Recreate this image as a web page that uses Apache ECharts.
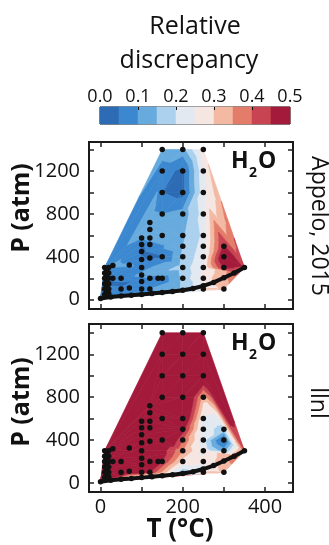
<!DOCTYPE html>
<html>
<head>
<meta charset="utf-8">
<script src="https://cdn.jsdelivr.net/npm/echarts@6/dist/echarts.min.js"></script>
<style>
  html, body { margin: 0; padding: 0; background: #fff; }
  #chart { width: 329px; height: 545px; }
</style>
</head>
<body>
<div id="chart"></div>
<script>
// measured (T, P) points and the relative discrepancy read at each one
const ptT = [150, 150, 150, 150, 150, 150, 150,
  200, 200, 200, 200, 200, 200, 200, 200, 200,
  250, 250, 250, 250, 250, 250, 250, 250, 250, 250,
  300, 300, 300, 300,
  10, 10, 10, 10, 10, 10,
  15, 15, 15, 15, 15,
  20, 20, 20, 20, 20, 20,
  30, 30, 50, 50, 70, 70,
  100, 100, 100, 100, 100, 100, 100, 100,
  120, 120, 120, 120, 120, 120, 120, 140]
const ptP = [1400, 1200, 1000, 800, 600, 400, 200,
  1400, 1200, 1000, 800, 600, 500, 400, 300, 200,
  1400, 1200, 1000, 800, 600, 500, 400, 300, 200, 100,
  500, 400, 300, 100,
  300, 250, 200, 150, 100, 50,
  275, 225, 175, 125, 75,
  300, 250, 200, 150, 100, 60,
  320, 200, 200, 100, 325, 110,
  575, 515, 450, 375, 300, 230, 170, 100,
  720, 655, 575, 515, 390, 200, 100, 200]
const relAppelo = [0.12, 0.08, 0.05, 0.1, 0.13, 0.04, 0.07,
  0.13, 0.03, 0.03, 0.12, 0.14, 0.15, 0.16, 0.17, 0.16,
  0.28, 0.24, 0.23, 0.22, 0.21, 0.22, 0.23, 0.25, 0.27, 0.3,
  0.46, 0.52, 0.46, 0.32,
  0.07, 0.04, 0.03, 0.04, 0.03, 0.04,
  0.06, 0.04, 0.03, 0.04, 0.04,
  0.1, 0.05, 0.04, 0.03, 0.04, 0.05,
  0.12, 0.06, 0.08, 0.08, 0.11, 0.06,
  0.1, 0.05, 0.04, 0.06, 0.08, 0.11, 0.06, 0.08,
  0.13, 0.11, 0.13, 0.06, 0.04, 0.1, 0.1, 0.06]
const relLlnl = [0.6, 0.6, 0.6, 0.6, 0.6, 0.58, 0.45,
  0.6, 0.6, 0.6, 0.6, 0.55, 0.48, 0.4, 0.35, 0.28,
  0.6, 0.6, 0.55, 0.32, 0.24, 0.22, 0.22, 0.24, 0.26, 0.3,
  0.18, 0.02, 0.12, 0.32,
  0.6, 0.6, 0.6, 0.6, 0.6, 0.6,
  0.6, 0.6, 0.6, 0.6, 0.58,
  0.6, 0.6, 0.6, 0.6, 0.6, 0.55,
  0.6, 0.6, 0.6, 0.6, 0.6, 0.55,
  0.6, 0.6, 0.6, 0.6, 0.6, 0.6, 0.6, 0.5,
  0.6, 0.6, 0.6, 0.6, 0.6, 0.6, 0.45, 0.6]

// lower boundary (dense black curve)
const curveT = [0, 25, 50, 75, 100, 125, 150, 175, 200, 225, 250, 275, 300, 325, 350]
const curveP = [12, 25, 35, 42, 50, 58, 68, 77, 88, 105, 130, 162, 205, 250, 300]
const curveAppelo = [0.06, 0.04, 0.05, 0.06, 0.07, 0.08, 0.1, 0.12, 0.16, 0.2, 0.24, 0.3, 0.34, 0.38, 0.44]
const curveLlnl = [0.55, 0.45, 0.3, 0.2, 0.15, 0.12, 0.12, 0.12, 0.14, 0.18, 0.22, 0.28, 0.33, 0.37, 0.4]

// contour levels and colours
const levels = [0, 0.05, 0.1, 0.15, 0.2, 0.25, 0.3, 0.35, 0.4, 0.45, 0.5]
const bandColors = ['#2d6cb4', '#3c88d0', '#67aade', '#acd1ee', '#e3e9f1',
  '#f5e6e2', '#f3b9a3', '#e47c6a', '#c84452', '#a31a3b']

const xTicks = [0, 100, 200, 300, 400]
const xLabels = [0, 200, 400]
const yTicks = [0, 200, 400, 600, 800, 1000, 1200, 1400]
const yLabels = [0, 400, 800, 1200]
const cbTicks = [0.1, 0.2, 0.3, 0.4]
const cbLabels = [0, 0.1, 0.2, 0.3, 0.4, 0.5]

const FONT = "'Open Sans', 'DejaVu Sans', sans-serif"

const allT = ptT.concat(curveT)
const allP = ptP.concat(curveP)
const valsA = relAppelo.concat(curveAppelo)
const valsB = relLlnl.concat(curveLlnl)

// Bowyer-Watson triangulation in data space
function delaunay (xs, ys) {
  const n = xs.length
  const px = xs.slice()
  const py = ys.slice()
  const x0 = Math.min(...xs), x1 = Math.max(...xs)
  const y0 = Math.min(...ys), y1 = Math.max(...ys)
  const d = Math.max(x1 - x0, y1 - y0) * 50
  const cx = (x0 + x1) / 2, cy = (y0 + y1) / 2
  px.push(cx - d, cx + d, cx)
  py.push(cy - d, cy - d, cy + d)
  const circ = (a, b, c) => {
    const ax = px[a], ay = py[a], bx = px[b], by = py[b], qx = px[c], qy = py[c]
    const D = 2 * (ax * (by - qy) + bx * (qy - ay) + qx * (ay - by))
    const a2 = ax * ax + ay * ay, b2 = bx * bx + by * by, c2 = qx * qx + qy * qy
    const ux = (a2 * (by - qy) + b2 * (qy - ay) + c2 * (ay - by)) / D
    const uy = (a2 * (qx - bx) + b2 * (ax - qx) + c2 * (bx - ax)) / D
    return [ux, uy, (ax - ux) ** 2 + (ay - uy) ** 2]
  }
  let tris = [[n, n + 1, n + 2, circ(n, n + 1, n + 2)]]
  for (let i = 0; i < n; i++) {
    const edges = new Map()
    const keep = []
    for (const t of tris) {
      const c = t[3]
      if ((px[i] - c[0]) ** 2 + (py[i] - c[1]) ** 2 < c[2] * (1 - 1e-10)) {
        [[t[0], t[1]], [t[1], t[2]], [t[2], t[0]]].forEach(([a, b]) => {
          const k = a < b ? a + ',' + b : b + ',' + a
          edges.set(k, edges.has(k) ? null : [a, b])
        })
      } else {
        keep.push(t)
      }
    }
    edges.forEach(e => { if (e) keep.push([e[0], e[1], i, circ(e[0], e[1], i)]) })
    tris = keep
  }
  return tris.filter(t => t[0] < n && t[1] < n && t[2] < n).map(t => t.slice(0, 3))
}

const tris = delaunay(allT, allP)

function clipPoly (poly, lv, above) {
  const out = []
  for (let i = 0; i < poly.length; i++) {
    const a = poly[i], b = poly[(i + 1) % poly.length]
    const ina = above ? a[2] >= lv : a[2] <= lv
    const inb = above ? b[2] >= lv : b[2] <= lv
    if (ina) out.push(a)
    if (ina !== inb) {
      const t = (lv - a[2]) / (b[2] - a[2])
      out.push([a[0] + t * (b[0] - a[0]), a[1] + t * (b[1] - a[1]), lv])
    }
  }
  return out
}

function contourSeries (vals, axisIdx) {
  return {
    type: 'custom',
    xAxisIndex: axisIdx,
    yAxisIndex: axisIdx,
    silent: true,
    z: 1,
    data: tris.map(t => [allT[t[0]], allP[t[0]]]),
    renderItem: (params, api) => {
      const tri = tris[params.dataIndex].map(i => [allT[i], allP[i], vals[i]])
      const children = []
      bandColors.forEach((c, k) => {
        let poly = tri
        if (k > 0) poly = clipPoly(poly, levels[k], true)
        if (k < bandColors.length - 1 && poly.length) poly = clipPoly(poly, levels[k + 1], false)
        if (poly.length >= 3) {
          children.push({
            type: 'polygon',
            shape: { points: poly.map(p => api.coord([p[0], p[1]])) },
            style: { fill: c, stroke: c, lineWidth: 0.7 }
          })
        }
      })
      return { type: 'group', children }
    }
  }
}

function pointSeries (axisIdx) {
  return [{
    type: 'line',
    xAxisIndex: axisIdx,
    yAxisIndex: axisIdx,
    silent: true,
    z: 3,
    data: curveT.map((t, i) => [t, curveP[i]]),
    symbol: 'circle',
    symbolSize: 5.5,
    itemStyle: { color: '#111' },
    lineStyle: { color: '#111', width: 4 }
  }, {
    type: 'scatter',
    xAxisIndex: axisIdx,
    yAxisIndex: axisIdx,
    silent: true,
    z: 4,
    symbolSize: 5.5,
    itemStyle: { color: '#111', opacity: 1 },
    data: ptT.map((t, i) => [t, ptP[i]])
  }]
}

const tickStyle = { color: '#222', width: 1.5 }

function xAx (grid, pos, labels) {
  return {
    type: 'value', gridIndex: grid, position: pos, min: -28, max: 468, z: 5,
    axisLine: { show: false, onZero: false }, splitLine: { show: false },
    axisTick: { show: true, inside: true, length: 5, customValues: xTicks, lineStyle: tickStyle },
    axisLabel: {
      show: labels, customValues: xLabels, fontSize: 20, fontFamily: FONT, color: '#111', margin: 5,
      formatter: v => String(v)
    }
  }
}

function yAx (grid, pos, labels, min, max) {
  return {
    type: 'value', gridIndex: grid, position: pos, min, max, z: 5,
    axisLine: { show: false, onZero: false }, splitLine: { show: false },
    axisTick: { show: true, inside: true, length: 5, customValues: yTicks, lineStyle: tickStyle },
    axisLabel: {
      show: labels, customValues: yLabels, fontSize: 20, fontFamily: FONT, color: '#111', margin: 9,
      formatter: v => String(v)
    }
  }
}

const frame = { show: true, borderColor: '#1a1a1a', borderWidth: 2, backgroundColor: 'transparent' }

const chart = echarts.init(document.getElementById('chart'), null, { renderer: 'canvas' })

const option = {
  animation: false,
  backgroundColor: '#fff',
  grid: [
    Object.assign({ left: 89, top: 142, width: 204, height: 167 }, frame),
    Object.assign({ left: 89, top: 324, width: 204, height: 168 }, frame),
    { left: 100, top: 107, width: 190, height: 17, show: true, borderColor: '#111', borderWidth: 1, backgroundColor: 'transparent' }
  ],
  xAxis: [
    xAx(0, 'bottom', false),
    xAx(0, 'top', false),
    xAx(1, 'bottom', true),
    xAx(1, 'top', false),
    {
      type: 'value', gridIndex: 2, position: 'top', min: 0, max: 0.5, z: 5,
      axisLine: { show: false, onZero: false }, splitLine: { show: false },
      axisTick: { show: true, inside: true, length: 3, customValues: cbTicks, lineStyle: { color: '#111', width: 1 } },
      axisLabel: {
        show: true, customValues: cbLabels, fontSize: 18, fontFamily: FONT, color: '#111', margin: 1,
        formatter: v => v.toFixed(1)
      }
    }
  ],
  yAxis: [
    yAx(0, 'left', true, -86, 1471),
    yAx(0, 'right', false, -86, 1471),
    yAx(1, 'left', true, -84, 1482),
    yAx(1, 'right', false, -84, 1482),
    { type: 'value', gridIndex: 2, min: 0, max: 1, show: false }
  ],
  series: [
    contourSeries(valsA, 0),
    ...pointSeries(0),
    contourSeries(valsB, 2),
    ...pointSeries(2),
    {
      type: 'custom',
      xAxisIndex: 4,
      yAxisIndex: 4,
      silent: true,
      data: bandColors.map((c, k) => [levels[k], levels[k + 1]]),
      renderItem: (params, api) => {
        const p0 = api.coord([api.value(0), 1])
        const p1 = api.coord([api.value(1), 0])
        const c = bandColors[params.dataIndex]
        return {
          type: 'rect',
          shape: { x: p0[0], y: p0[1], width: p1[0] - p0[0], height: p1[1] - p0[1] },
          style: { fill: c, stroke: c, lineWidth: 0.5 }
        }
      }
    }
  ],
  graphic: [
    { type: 'text', x: 195, y: 27, style: { text: 'Relative', font: '25px ' + FONT, fill: '#111', textAlign: 'center', textVerticalAlign: 'middle' } },
    { type: 'text', x: 189, y: 61, style: { text: 'discrepancy', font: '25px ' + FONT, fill: '#111', textAlign: 'center', textVerticalAlign: 'middle' } },
    { type: 'text', x: 22, y: 208, rotation: Math.PI / 2, style: { text: 'P (atm)', font: 'bold 25px ' + FONT, fill: '#111', textAlign: 'center', textVerticalAlign: 'middle' } },
    { type: 'text', x: 22, y: 402, rotation: Math.PI / 2, style: { text: 'P (atm)', font: 'bold 25px ' + FONT, fill: '#111', textAlign: 'center', textVerticalAlign: 'middle' } },
    { type: 'text', x: 180, y: 530, style: { text: 'T (°C)', font: 'bold 26px ' + FONT, fill: '#111', textAlign: 'center', textVerticalAlign: 'middle' } },
    { type: 'text', x: 319, y: 226, rotation: -Math.PI / 2, style: { text: 'Appelo, 2015', font: '23px ' + FONT, fill: '#111', textAlign: 'center', textVerticalAlign: 'middle' } },
    { type: 'text', x: 318, y: 403, rotation: -Math.PI / 2, style: { text: 'llnl', font: '23px ' + FONT, fill: '#111', textAlign: 'center', textVerticalAlign: 'middle' } },
    // H2O labels
    { type: 'text', x: 231, y: 161, style: { text: 'H', font: 'bold 23px ' + FONT, fill: '#111', textAlign: 'left', textVerticalAlign: 'middle' } },
    { type: 'text', x: 249, y: 173, style: { text: '2', font: 'bold 14px ' + FONT, fill: '#111', textAlign: 'left', textVerticalAlign: 'middle' } },
    { type: 'text', x: 258, y: 161, style: { text: 'O', font: 'bold 23px ' + FONT, fill: '#111', textAlign: 'left', textVerticalAlign: 'middle' } },
    { type: 'text', x: 231, y: 343, style: { text: 'H', font: 'bold 23px ' + FONT, fill: '#111', textAlign: 'left', textVerticalAlign: 'middle' } },
    { type: 'text', x: 249, y: 355, style: { text: '2', font: 'bold 14px ' + FONT, fill: '#111', textAlign: 'left', textVerticalAlign: 'middle' } },
    { type: 'text', x: 258, y: 343, style: { text: 'O', font: 'bold 23px ' + FONT, fill: '#111', textAlign: 'left', textVerticalAlign: 'middle' } }
  ]
}

chart.setOption(option)
window.addEventListener('resize', () => chart.resize())
</script>
</body>
</html>
